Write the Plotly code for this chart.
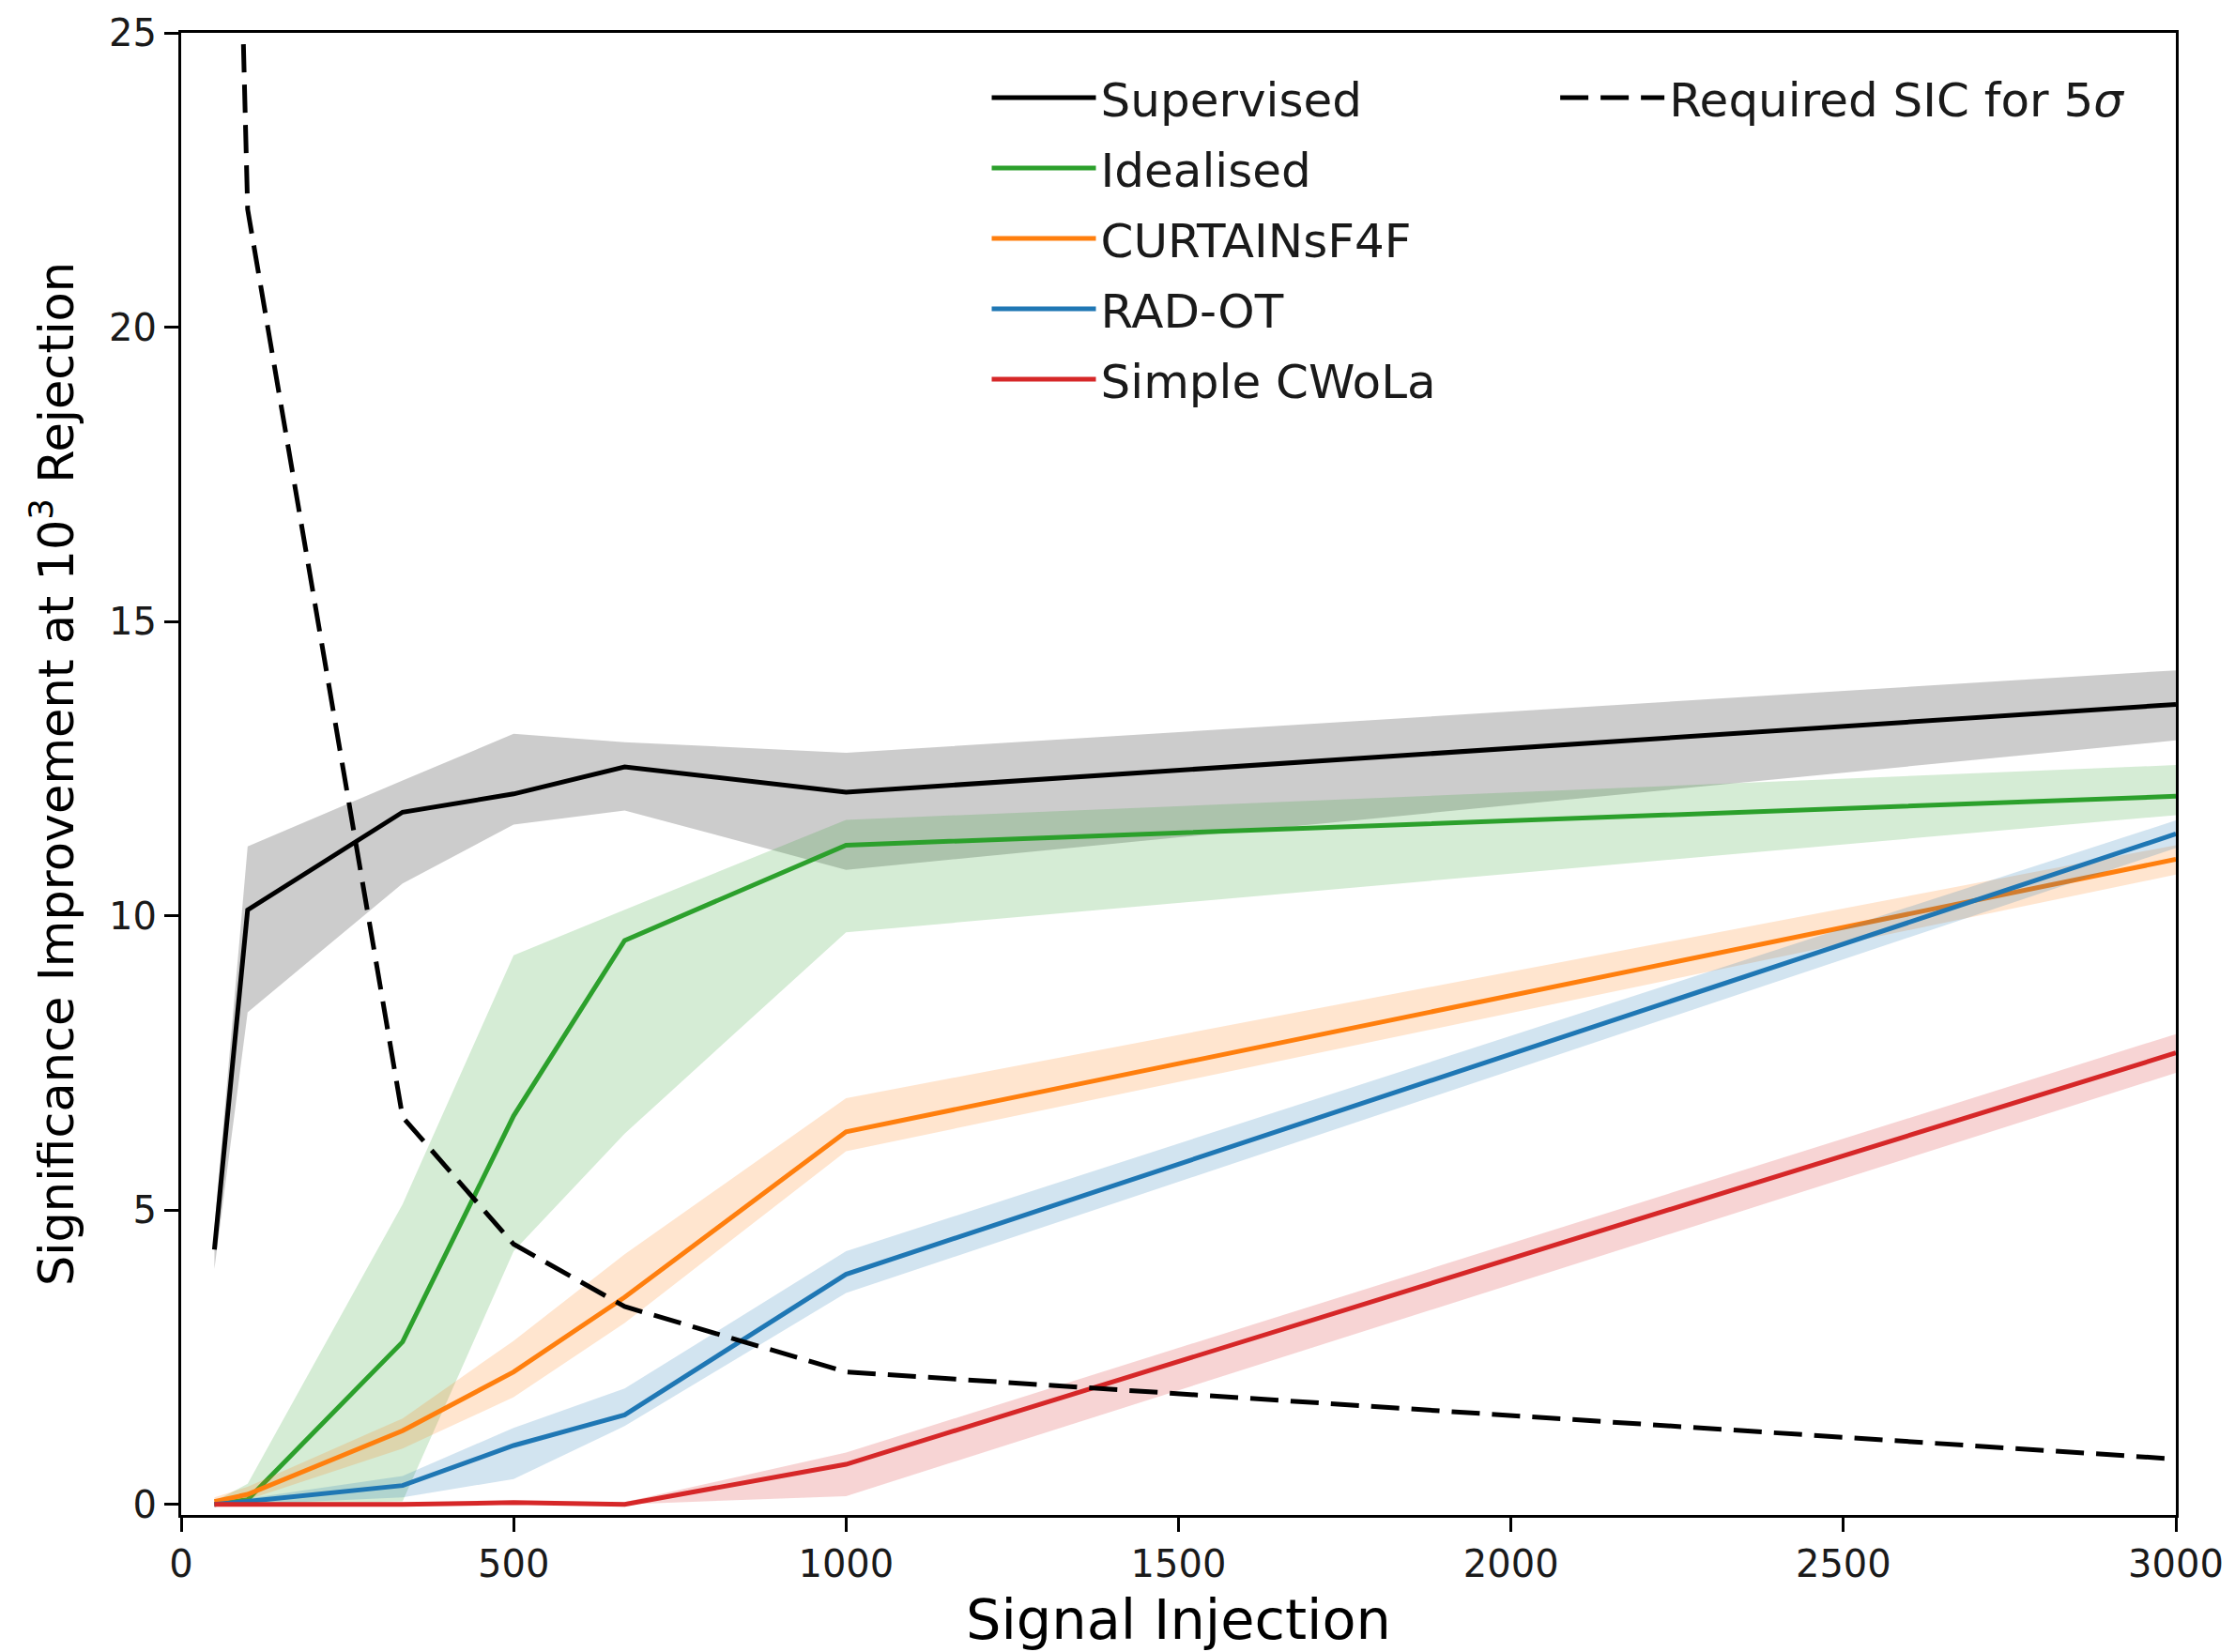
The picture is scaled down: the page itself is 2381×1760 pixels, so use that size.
import plotly.graph_objects as go

# ---- data ----
signal_injection = [50, 100, 333, 500, 667, 1000, 3000]

supervised = [4.33, 10.10, 11.76, 12.07, 12.53, 12.10, 13.59]
supervised_hi = [4.70, 11.18, 12.30, 13.09, 12.95, 12.77, 14.17]
supervised_lo = [4.00, 8.36, 10.55, 11.55, 11.79, 10.78, 12.98]

idealised = [0.00, 0.08, 2.76, 6.60, 9.58, 11.20, 12.03]
idealised_hi = [0.05, 0.35, 5.10, 9.33, 10.10, 11.63, 12.56]
idealised_lo = [0.00, 0.00, 0.05, 4.30, 6.30, 9.72, 11.71]

curtains = [0.05, 0.17, 1.25, 2.25, 3.52, 6.33, 10.96]
curtains_hi = [0.12, 0.30, 1.46, 2.78, 4.25, 6.90, 11.20]
curtains_lo = [0.00, 0.08, 0.95, 1.82, 3.08, 6.00, 10.70]

radot = [0.00, 0.05, 0.32, 1.00, 1.52, 3.91, 11.39]
radot_hi = [0.03, 0.10, 0.48, 1.30, 1.97, 4.30, 11.62]
radot_lo = [0.00, 0.00, 0.12, 0.43, 1.33, 3.59, 11.15]

cwola = [0.00, 0.00, 0.00, 0.03, 0.00, 0.68, 7.67]
cwola_hi = [0.03, 0.03, 0.03, 0.06, 0.04, 0.88, 7.99]
cwola_lo = [0.00, 0.00, 0.00, 0.00, 0.00, 0.14, 7.33]

required_sic = [44.0, 22.0, 6.58, 4.42, 3.36, 2.25, 0.77]

x_ticks = [0, 500, 1000, 1500, 2000, 2500, 3000]
y_ticks = [0, 5, 10, 15, 20, 25]

series = [
    ("Supervised", supervised, supervised_hi, supervised_lo, "#000000", "rgba(0,0,0,0.2)"),
    ("Idealised", idealised, idealised_hi, idealised_lo, "#2ca02c", "rgba(44,160,44,0.2)"),
    ("CURTAINsF4F", curtains, curtains_hi, curtains_lo, "#ff7f0e", "rgba(255,127,14,0.2)"),
    ("RAD-OT", radot, radot_hi, radot_lo, "#1f77b4", "rgba(31,119,180,0.2)"),
    ("Simple CWoLa", cwola, cwola_hi, cwola_lo, "#d62728", "rgba(214,39,40,0.2)"),
]

FONT = "DejaVu Sans"
fig = go.Figure()

for i, (name, mid, hi, lo, col, fillcol) in enumerate(series):
    band_x = list(signal_injection) + list(reversed(signal_injection))
    band_y = list(hi) + list(reversed(lo))
    fig.add_trace(go.Scatter(
        x=band_x, y=band_y, fill="toself", fillcolor=fillcol,
        line=dict(width=0), mode="lines", hoverinfo="skip",
        showlegend=False, legendgroup=f"g{i}",
    ))
    fig.add_trace(go.Scatter(
        x=signal_injection, y=mid, mode="lines", name=name,
        line=dict(color=col, width=5), legendgroup=f"g{i}", legend="legend",
    ))

fig.add_trace(go.Scatter(
    x=signal_injection, y=required_sic, mode="lines",
    name="Required SIC for 5<i>σ</i>",
    line=dict(color="black", width=5, dash="30px,13px"),
    legend="legend2",
))

axis_common = dict(
    showgrid=False, zeroline=False, showline=True, linecolor="black", linewidth=3,
    mirror=True, ticks="outside", ticklen=15, tickwidth=3, tickcolor="black",
    tickfont=dict(family=FONT, size=40, color="#1a1a1a"),
)

fig.update_layout(
    width=2381, height=1760,
    margin=dict(l=193, r=61, t=33, b=145),
    paper_bgcolor="white", plot_bgcolor="white",
    font=dict(family=FONT, color="black"),
    xaxis=dict(range=[0, 3000], tickvals=x_ticks, ticklabeloverflow="allow",
               title=dict(text="Signal Injection", font=dict(family=FONT, size=59, color="black"), standoff=18),
               **axis_common),
    yaxis=dict(range=[-0.18, 25], tickvals=y_ticks,
               title=dict(text="Significance Improvement at 10<sup>3</sup> Rejection",
                          font=dict(family=FONT, size=51, color="black"), standoff=22),
               **axis_common),
    legend=dict(x=0.404, y=0.981, xanchor="left", yanchor="top",
                font=dict(family=FONT, size=50, color="#1a1a1a"),
                bgcolor="rgba(0,0,0,0)", borderwidth=0, itemwidth=111,
                tracegroupgap=7, traceorder="grouped"),
    legend2=dict(x=0.689, y=0.981, xanchor="left", yanchor="top",
                 font=dict(family=FONT, size=50, color="#1a1a1a"),
                 bgcolor="rgba(0,0,0,0)", borderwidth=0, itemwidth=111),
    showlegend=True,
)

fig.write_html("out.html")
